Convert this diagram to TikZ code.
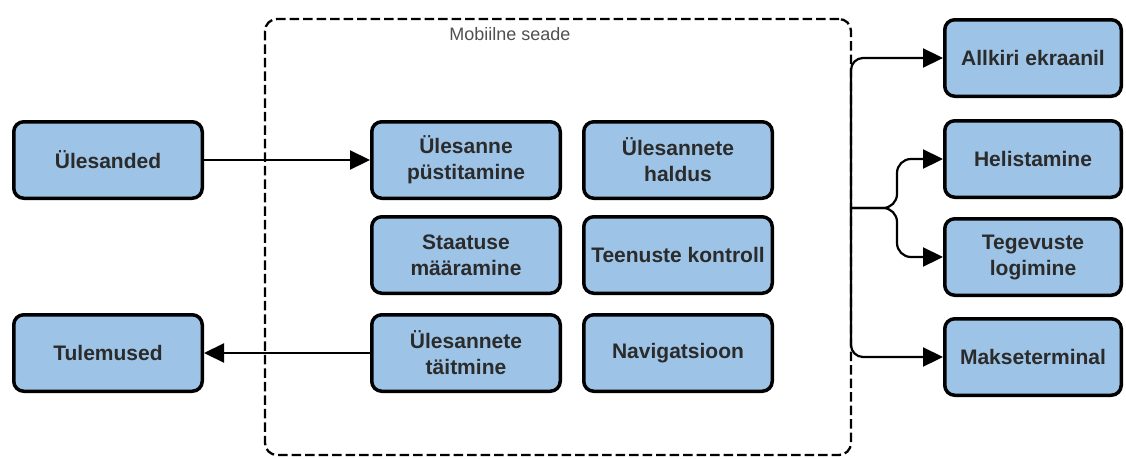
\documentclass[tikz,border=0pt]{standalone}
\usepackage{fontspec}
\setmainfont{Liberation Sans}
\usetikzlibrary{arrows.meta}
\definecolor{boxfill}{HTML}{9DC3E6}
\definecolor{boxtext}{HTML}{2B2B2B}
\definecolor{labeltext}{HTML}{505050}
\begin{document}
\begin{tikzpicture}[x=1pt,y=-1pt,
  task/.style={draw=black, line width=3.5pt, fill=boxfill, rounded corners=10pt,
    minimum width=#1, minimum height=76.5pt, inner sep=1pt, align=center,
    font=\fontsize{21}{26}\selectfont\bfseries, text=boxtext},
  task/.default=188.5pt,
  device/.style={draw=black, line width=2.3pt, dash pattern=on 9.5pt off 4pt,
    rounded corners=12pt, minimum width=586pt, minimum height=436pt},
  link/.style={draw=black, line width=2.2pt, -{Triangle[length=20pt,width=19pt]}}
]
\useasboundingbox (0,0) rectangle (1126,458);

% mobile device frame
\node[device] (dev) at (558,237) {};
\node[font=\fontsize{18}{22}\selectfont, text=labeltext] (devlabel) at (510,34) {Mobiilne seade};

% outside, left
\node[task] (ules) at (108,160) {Ülesanded};
\node[task] (tulem) at (108,353) {Tulemused};

% inside the device
\node[task] (pust) at (466,160) {Ülesanne\\püstitamine};
\node[task] (haldus) at (678,160) {Ülesannete\\haldus};
\node[task] (staatus) at (466,255) {Staatuse\\määramine};
\node[task] (teenus) at (678,255) {Teenuste kontroll};
\node[task] (taitm) at (466,353) {Ülesannete\\täitmine};
\node[task] (navi) at (678,353) {Navigatsioon};

% outside, right
\node[task=176.5pt] (allkiri) at (1033,58) {Allkiri ekraanil};
\node[task=176.5pt] (helis) at (1033,159) {Helistamine};
\node[task=176.5pt] (tegev) at (1033,257) {Tegevuste\\logimine};
\node[task=176.5pt] (makse) at (1033,357) {Makseterminal};

% connectors
\draw[link] (ules.east) -- (pust.west);
\draw[link] (taitm.west) -- (tulem.east);

\coordinate (exit) at (851,208);
\draw[link, rounded corners=12pt] (exit) |- (allkiri.west);
\draw[link, rounded corners=14pt] (exit) -- ++(46,0) |- (helis.west);
\draw[link, rounded corners=14pt] (exit) -- ++(46,0) |- (tegev.west);
\draw[link, rounded corners=12pt] (exit) |- (makse.west);
\end{tikzpicture}
\end{document}
